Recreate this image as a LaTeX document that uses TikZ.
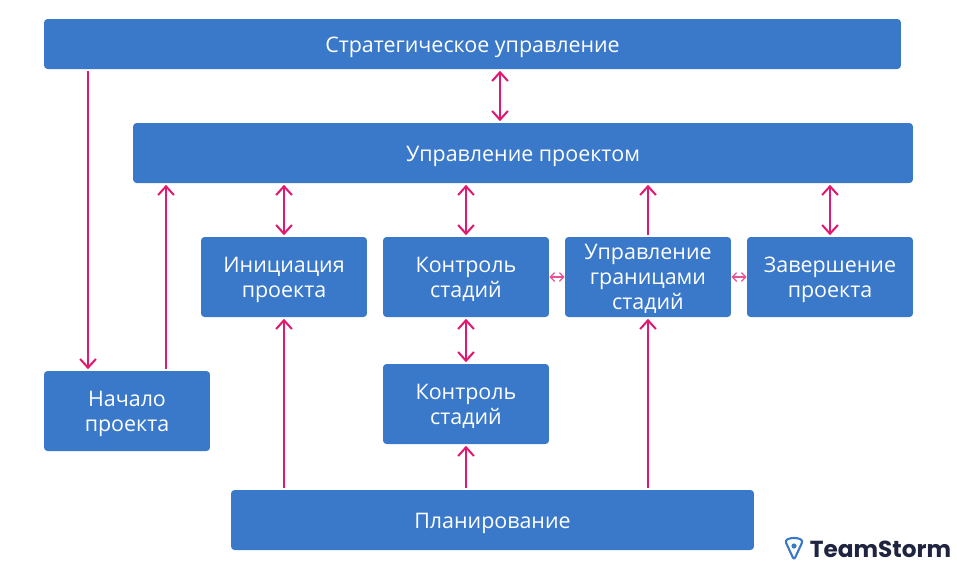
\documentclass[tikz,border=0pt]{standalone}
\usepackage{fontspec}
\setmainfont{Open Sans}
\newfontfamily\logofont{Poppins}
\usetikzlibrary{arrows.meta}
\definecolor{boxblue}{HTML}{3A78C9}
\definecolor{linkpink}{HTML}{E0186F}
\definecolor{logodark}{HTML}{1F2440}
\tikzset{
    block/.style={fill=boxblue, text=white, rounded corners=2pt, align=center, inner sep=0pt,
        font=\fontsize{12.2}{14.1}\selectfont},
    bar/.style={block, execute at begin node={\rule{0pt}{12.3pt}}},
    stage/.style={block, minimum width=3.32cm, minimum height=1.6cm, text depth=-0.3pt},
    link/.style={linkpink, line width=1.15pt, shorten >=0.8pt, shorten <=0.8pt,
        -{Straight Barb[length=5pt,width=9pt]}},
    twolink/.style={link, {Straight Barb[length=5pt,width=9pt]}-{Straight Barb[length=5pt,width=9pt]}},
    thinlink/.style={linkpink!75, line width=0.7pt,
        {Straight Barb[length=2.5pt,width=5pt]}-{Straight Barb[length=2.5pt,width=5pt]}}
}
\begin{document}
\begin{tikzpicture}[x=0.02cm,y=-0.02cm]
    \useasboundingbox (0,0) rectangle (957,569);

    % Top bars
    \node[bar, minimum width=17.14cm, minimum height=1cm] (strategy) at (472.5,44) {Стратегическое управление};
    \node[bar, minimum width=15.6cm, minimum height=1.2cm] (manage) at (523,153) {Управление проектом};

    % Row of stages
    \node[stage] (init) at (284,277) {Инициация\\проекта};
    \node[stage] (control) at (466,277) {Контроль\\стадий};
    \node[stage] (border) at (648,277) {Управление\\границами\\стадий};
    \node[stage] (finish) at (830,277) {Завершение\\проекта};

    % Lower boxes
    \node[stage] (control2) at (466,404) {Контроль\\стадий};
    \node[stage] (start) at (127,411) {Начало\\проекта};
    \node[bar, minimum width=10.46cm, minimum height=1.2cm] (plan) at (492.5,520) {Планирование};

    % Offsets of the links that leave a box off centre
    \coordinate (down) at (88,0);
    \coordinate (up) at (166,0);
    \coordinate (mid) at (500,0);

    \draw[link] (strategy.south -| down) -- (start.north -| down);
    \draw[link] (start.north -| up) -- (manage.south -| up);
    \draw[twolink] (strategy.south -| mid) -- (manage.north -| mid);

    \foreach \p in {init,control,finish} \draw[twolink] (\p.north) -- (\p.north |- manage.south);
    \draw[link] (border.north) -- (border.north |- manage.south);

    \draw[thinlink] (control.east) -- (border.west);
    \draw[thinlink] (border.east) -- (finish.west);
    \draw[twolink] (control.south) -- (control2.north);

    \draw[link] (plan.north -| init) -- (init.south);
    \draw[link] (plan.north -| control2) -- (control2.south);
    \draw[link] (plan.north -| border) -- (border.south);

    % Logo
    \draw[boxblue, line width=1.2pt, line join=round, rounded corners=1.5pt]
        (785,540.5) .. controls (791,537.5) and (797,537.5) .. (803,540.5) -- (794,560) -- cycle;
    \fill[boxblue] (794,546) circle (2.6);
    \node[text=logodark, anchor=west, inner sep=0pt, font=\logofont\bfseries\fontsize{13.2}{15}\selectfont] (logo) at (809.5,549.5) {TeamStorm};
\end{tikzpicture}
\end{document}
